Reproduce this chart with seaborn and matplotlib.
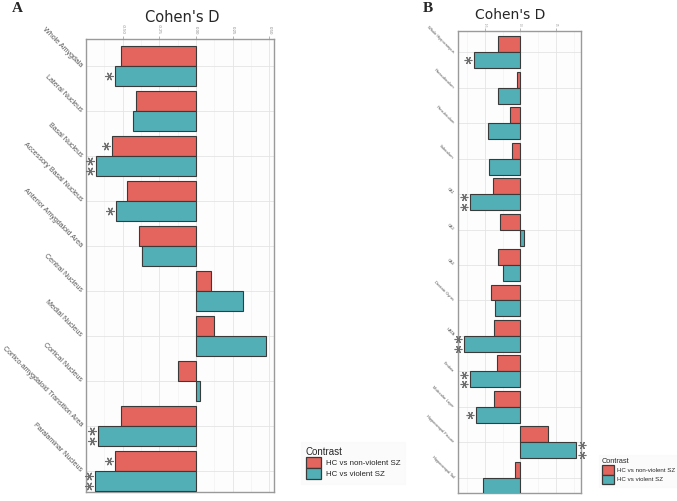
import numpy as np
import pandas as pd
import seaborn as sns
import matplotlib.pyplot as plt
from matplotlib.patches import Patch
from matplotlib.transforms import offset_copy

# amygdala panel (A)
amyg_regions = ["Whole Amygdala", "Lateral Nucleus", "Basal Nucleus", "Accessory Basal Nucleus",
                "Anterior Amygdaloid Area", "Central Nucleus", "Medial Nucleus", "Cortical Nucleus",
                "Cortico-amygdaloid Transition Area", "Paralaminar Nucleus"]
amyg_nonviolent = [-0.51, -0.41, -0.57, -0.47, -0.39, 0.10, 0.12, -0.125, -0.51, -0.55]
amyg_violent = [-0.55, -0.43, -0.68, -0.545, -0.37, 0.32, 0.475, 0.03, -0.67, -0.69]
amyg_stars_nonviolent = [0, 0, 1, 0, 0, 0, 0, 0, 0, 1]
amyg_stars_violent = [1, 0, 2, 1, 0, 0, 0, 0, 2, 2]

# hippocampus panel (B)
hippo_regions = ["Whole Hippocampus", "Parasubiculum", "Presubiculum", "Subiculum", "CA1", "CA3",
                 "CA4", "Dentate Gyrus", "HATA", "Fimbria", "Molecular Layer",
                 "Hippocampal Fissure", "Hippocampal Tail"]
hippo_nonviolent = [-0.32, -0.05, -0.15, -0.11, -0.38, -0.28, -0.32, -0.41, -0.37, -0.33, -0.37, 0.39, -0.075]
hippo_violent = [-0.65, -0.32, -0.46, -0.44, -0.71, 0.05, -0.24, -0.35, -0.79, -0.71, -0.62, 0.79, -0.52]
hippo_stars_nonviolent = [0] * 13
hippo_stars_violent = [1, 0, 0, 0, 2, 0, 0, 0, 2, 2, 1, 2, 0]

contrasts = ["HC vs non-violent SZ", "HC vs violent SZ"]
colors = ["#E3655E", "#52AFB5"]


def make_df(regions, nonviolent, violent):
    return pd.DataFrame({
        "region": regions * 2,
        "d": nonviolent + violent,
        "Contrast": [contrasts[0]] * len(regions) + [contrasts[1]] * len(regions),
    })


sns.set_style("white")
plt.rcParams['font.family'] = ['Liberation Sans', 'DejaVu Sans']

fig = plt.figure(figsize=(6.77, 5.01), dpi=100)
axA = fig.add_axes([86 / 677, 1 - 492 / 501, 188 / 677, 453 / 501])
axB = fig.add_axes([458 / 677, 1 - 493 / 501, 123 / 677, 462 / 501])


def draw_panel(ax, regions, nonviolent, violent, stars, ticks, ticklabels, xlim, ylim,
               ylab_size, xlab_size, star_size, xpad):
    df = make_df(regions, nonviolent, violent)
    sns.barplot(data=df, x="d", y="region", hue="Contrast", palette=colors, orient="h",
                width=0.9, edgecolor="#3a3a3a", linewidth=0.8, saturation=1,
                legend=False, ax=ax, zorder=3)
    ax.set_facecolor("#fdfdfd")
    ax.xaxis.tick_top()
    ax.set_xticks(ticks)
    ax.set_xticklabels(ticklabels, rotation=-90, fontsize=xlab_size, color="#888888")
    step = ticks[1] - ticks[0]
    minor = [ticks[0] - step / 2] + [t + step / 2 for t in ticks]
    ax.set_xticks(minor, minor=True)
    # limits after the ticks, so the ticks do not widen them
    ax.set_xlim(*xlim)
    ax.set_ylim(*ylim)
    ax.set_yticks(range(len(regions)))
    ax.set_yticklabels(regions, rotation=-45, ha="right", va="center", rotation_mode="anchor",
                       fontsize=ylab_size, color="#555555")
    ax.tick_params(axis="y", which="major", length=2, width=0.5, color="#999999", pad=1.5)
    ax.tick_params(axis="x", which="major", length=2, width=0.5, color="#999999", pad=xpad)
    ax.tick_params(axis="x", which="minor", length=0)
    ax.grid(which="major", color="#e4e4e4", linewidth=0.6)
    ax.grid(which="minor", axis="x", color="#efefef", linewidth=0.4)
    ax.set_axisbelow(True)
    for s in ax.spines.values():
        s.set_color("#9a9a9a")
        s.set_linewidth(1.0)
    ax.set_xlabel("")
    ax.set_ylabel("")
    # significance stars next to the bar ends
    for cont, n_stars in zip(ax.containers, stars):
        for bar, n in zip(cont, n_stars):
            if n == 0:
                continue
            end = bar.get_x() + bar.get_width()
            sign = -1 if bar.get_width() < 0 else 1
            yc = bar.get_y() + bar.get_height() / 2
            offsets = [0] if n == 1 else [-4.8, 4.8]
            for dy in offsets:
                tr = offset_copy(ax.transData, fig=fig, x=sign * 6, y=dy, units="dots")
                ax.plot(end, yc, marker=(6, 2, 90), markersize=star_size, color="#6e6e6e",
                        mew=0.8, transform=tr, clip_on=False, zorder=5)


draw_panel(axA, amyg_regions, amyg_nonviolent, amyg_violent,
           [amyg_stars_nonviolent, amyg_stars_violent],
           [-0.5, -0.25, 0.0, 0.25, 0.5], ["-0.50", "-0.25", "0.00", "0.25", "0.50"],
           (-0.749, 0.531), (9.47, -0.6), 5.1, 3.2, 6, 1.5)
draw_panel(axB, hippo_regions, hippo_nonviolent, hippo_violent,
           [hippo_stars_nonviolent, hippo_stars_violent],
           [-0.5, 0.0, 0.5], ["-0.5", "0.0", "0.5"],
           (-0.877, 0.855), (12.43, -0.6), 2.9, 1.8, 5.5, 0.8)

# titles and panel letters
fig.text(182 / 677, 1 - 18 / 501, "Cohen's D", ha="center", va="center", fontsize=10.5,
         family="DejaVu Sans")
fig.text(510 / 677, 1 - 15 / 501, "Cohen's D", ha="center", va="center", fontsize=10,
         family="DejaVu Sans")
fig.text(12 / 677, 1 - 9 / 501, "A", ha="left", va="center", fontsize=11,
         fontweight="bold", family="Liberation Serif")
fig.text(423 / 677, 1 - 9 / 501, "B", ha="left", va="center", fontsize=11,
         fontweight="bold", family="Liberation Serif")

handles = [Patch(facecolor=c, edgecolor="#3a3a3a", linewidth=0.9) for c in colors]
legA = fig.legend(handles, contrasts, title="Contrast", loc="upper left",
                  bbox_to_anchor=(297 / 677, 1 - 438 / 501), fontsize=5.7, title_fontsize=7,
                  handlelength=1.9, handleheight=1.8, labelspacing=0, handletextpad=0.6,
                  borderpad=0.6, alignment="left", frameon=True, fancybox=False)
legA.get_frame().set_facecolor("#fafafa")
legA.get_frame().set_edgecolor("#fafafa")
legB = fig.legend(handles, contrasts, title="Contrast", loc="upper left",
                  bbox_to_anchor=(596 / 677, 1 - 452 / 501), fontsize=4.4, title_fontsize=5.3,
                  handlelength=1.9, handleheight=2.0, labelspacing=0, handletextpad=0.6,
                  borderpad=0.5, alignment="left", frameon=True, fancybox=False)
legB.get_frame().set_facecolor("#fafafa")
legB.get_frame().set_edgecolor("#fafafa")

fig.savefig("out.png", dpi=100)
